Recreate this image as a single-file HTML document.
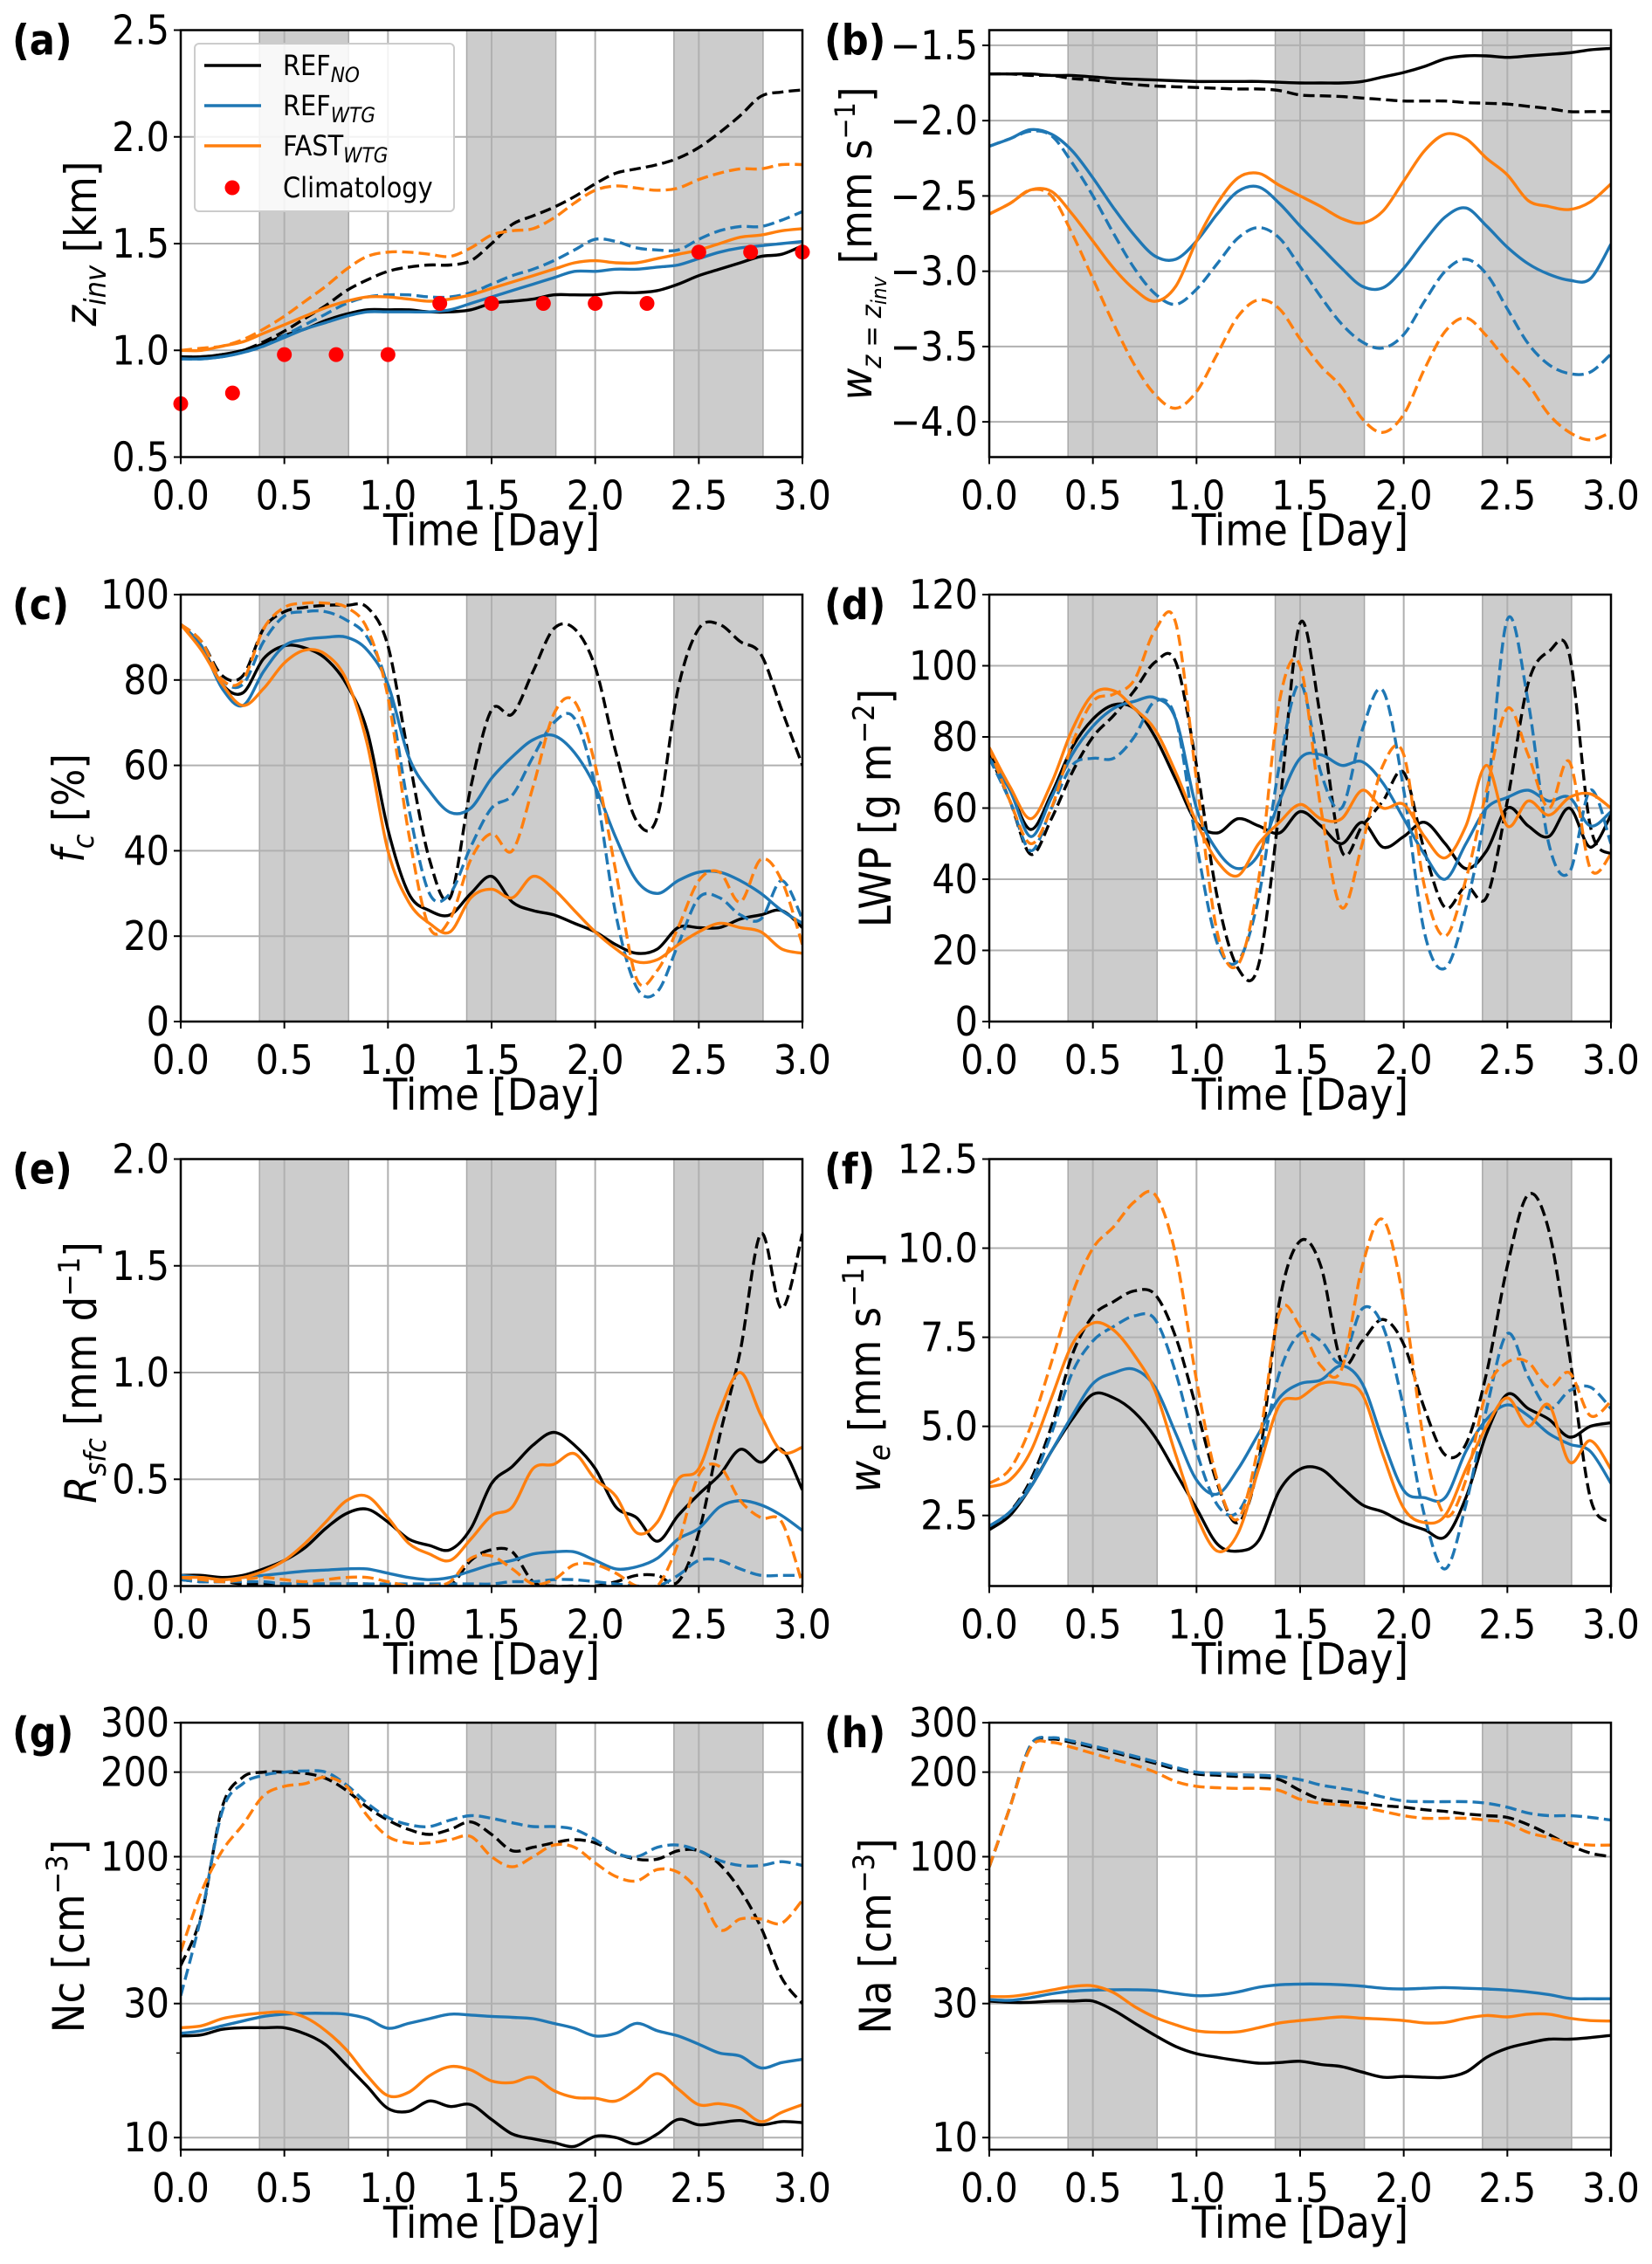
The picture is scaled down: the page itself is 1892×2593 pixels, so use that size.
<!DOCTYPE html>
<html><head><meta charset="utf-8"><style>
html,body{margin:0;padding:0;background:#fff;}
svg{display:block;}
text{font-family:"DejaVu Sans Condensed","DejaVu Sans","Liberation Sans",sans-serif;font-stretch:condensed;}
</style></head><body>
<svg id="fig" width="1892" height="2593" viewBox="0 0 1892 2593" xmlns="http://www.w3.org/2000/svg"></svg>
<script>
const time=[0,0.1,0.2,0.3,0.4,0.5,0.6,0.7,0.8,0.9,1.0,1.1,1.2,1.3,1.4,1.5,1.6,1.7,1.8,1.9,2.0,2.1,2.2,2.3,2.4,2.5,2.6,2.7,2.8,2.9,3.0];
const xTicks=[0,0.5,1.0,1.5,2.0,2.5,3.0];
const xTickLabels=["0.0","0.5","1.0","1.5","2.0","2.5","3.0"];
const nightStart=[0.38,1.38,2.38];
const nightEnd=[0.81,1.81,2.81];
// (a) z_inv
const a_refNo=[0.97,0.97,0.98,1.0,1.03,1.07,1.1,1.14,1.17,1.19,1.19,1.19,1.18,1.18,1.19,1.22,1.23,1.24,1.26,1.26,1.26,1.27,1.27,1.28,1.31,1.35,1.38,1.41,1.44,1.45,1.49];
const a_refNoD=[0.97,0.97,0.98,1.0,1.04,1.09,1.15,1.21,1.28,1.33,1.37,1.39,1.40,1.40,1.42,1.50,1.59,1.63,1.67,1.72,1.78,1.83,1.85,1.87,1.90,1.95,2.02,2.10,2.19,2.21,2.22];
const a_refW=[0.96,0.96,0.97,0.99,1.02,1.06,1.1,1.13,1.16,1.18,1.18,1.18,1.18,1.19,1.22,1.25,1.28,1.31,1.34,1.37,1.37,1.38,1.38,1.39,1.40,1.43,1.46,1.48,1.49,1.50,1.51];
const a_refWD=[0.96,0.96,0.97,0.99,1.02,1.07,1.12,1.17,1.22,1.25,1.26,1.26,1.25,1.25,1.27,1.31,1.35,1.38,1.42,1.47,1.52,1.51,1.48,1.47,1.47,1.52,1.56,1.58,1.58,1.61,1.65];
const a_fast=[1.0,1.0,1.02,1.04,1.08,1.12,1.16,1.20,1.23,1.25,1.25,1.24,1.23,1.24,1.26,1.29,1.32,1.35,1.38,1.41,1.42,1.41,1.41,1.43,1.45,1.47,1.50,1.53,1.54,1.56,1.57];
const a_fastD=[1.0,1.01,1.02,1.05,1.10,1.16,1.23,1.30,1.38,1.44,1.46,1.46,1.45,1.44,1.48,1.54,1.56,1.57,1.62,1.69,1.75,1.77,1.76,1.75,1.76,1.80,1.83,1.85,1.85,1.87,1.87];
const climTime=[0,0.25,0.5,0.75,1.0,1.25,1.5,1.75,2.0,2.25,2.5,2.75,3.0];
const climZ=[0.75,0.8,0.98,0.98,0.98,1.22,1.22,1.22,1.22,1.22,1.46,1.46,1.46];
// (b) w at z_inv
const b_refNo=[-1.69,-1.69,-1.69,-1.70,-1.70,-1.71,-1.72,-1.725,-1.73,-1.735,-1.74,-1.74,-1.74,-1.74,-1.745,-1.75,-1.75,-1.75,-1.74,-1.71,-1.68,-1.64,-1.59,-1.57,-1.57,-1.58,-1.57,-1.56,-1.55,-1.53,-1.52];
const b_refNoD=[-1.69,-1.69,-1.70,-1.70,-1.72,-1.73,-1.745,-1.76,-1.77,-1.775,-1.78,-1.785,-1.79,-1.79,-1.80,-1.83,-1.835,-1.84,-1.85,-1.86,-1.87,-1.87,-1.87,-1.88,-1.885,-1.89,-1.905,-1.92,-1.94,-1.94,-1.94];
const b_refW=[-2.17,-2.12,-2.06,-2.09,-2.2,-2.38,-2.58,-2.76,-2.9,-2.92,-2.8,-2.62,-2.47,-2.44,-2.55,-2.7,-2.84,-2.98,-3.1,-3.11,-2.98,-2.8,-2.64,-2.58,-2.7,-2.84,-2.95,-3.02,-3.06,-3.05,-2.82];
const b_refWD=[-2.17,-2.12,-2.07,-2.1,-2.28,-2.5,-2.75,-2.98,-3.15,-3.22,-3.12,-2.95,-2.78,-2.71,-2.78,-2.97,-3.17,-3.35,-3.47,-3.51,-3.42,-3.2,-3.0,-2.92,-3.02,-3.25,-3.48,-3.62,-3.68,-3.67,-3.55];
const b_fast=[-2.62,-2.55,-2.46,-2.47,-2.62,-2.8,-2.98,-3.12,-3.2,-3.1,-2.8,-2.55,-2.38,-2.35,-2.43,-2.5,-2.57,-2.65,-2.68,-2.6,-2.4,-2.2,-2.09,-2.12,-2.25,-2.36,-2.53,-2.57,-2.59,-2.54,-2.42];
const b_fastD=[-2.62,-2.55,-2.46,-2.5,-2.75,-3.05,-3.35,-3.62,-3.82,-3.91,-3.8,-3.55,-3.3,-3.19,-3.25,-3.45,-3.63,-3.77,-3.98,-4.07,-3.95,-3.65,-3.4,-3.31,-3.43,-3.6,-3.75,-3.95,-4.07,-4.12,-4.07];
// (c) cloud fraction
const c_refNo=[93,88,79,77,85,88,87.5,85,79,68,45,30,26,25,30,34,28,26,25,23,21,18,16,17,22,22,22,24,25,26,22];
const c_refNoD=[93,89,81,81,92,96,97,97.5,97.5,97,88,62,38,29,55,73,72,82,92,92,83,63,47,48,78,92,93,89,86,73,60];
const c_refW=[93,88,78,74,82,88,89.5,90,90,87,79,62,54,49,50,57,62,66,67,63,55,43,33,30,33,35,35,33,30,26,23];
const c_refWD=[93,89,80,79,89,95,96,96,94,90,78,50,30,30,41,50,53,62,70,71,55,25,8,7,18,29,29,25,24,33,24];
const c_fast=[93,87,79,74,78,84,87,86,80,65,40,28,23,21,29,31,29,34,31,26,21,17,14,14.5,18,21,23,22,21,17,16];
const c_fastD=[93,89,80,80,92,97,98,98,97,92,76,44,22,24,38,44,40,55,72,75,60,35,10,12,22,33,35,28,38,33,18];
// (d) LWP
const d_refNo=[76,65,54,64,77,85,89,88,80,68,56,53,57,55,53,59,55,50,56,49,52,56,50,43,48,60,55,52,60,49,58];
const d_refNoD=[75,62,47,57,70,80,86,93,101,101,72,35,15,16,60,112,85,48,55,62,70,48,32,38,35,62,95,104,103,55,47];
const d_refW=[74,65,52,63,75,83,88,90,91,85,60,48,43,47,62,74,75,72,73,67,57,47,40,50,60,63,65,62,63,55,59];
const d_refWD=[74,62,48,60,72,74,74,80,90,85,50,22,17,35,72,95,70,60,82,93,65,25,15,32,62,113,90,50,42,65,50];
const d_fast=[77,66,57,67,82,92,93,88,82,70,56,45,41,50,56,61,57,57,65,60,61,52,46,55,72,55,62,58,63,64,60];
const d_fastD=[77,62,50,60,78,90,92,96,110,112,68,25,16,40,90,100,60,32,50,72,75,38,24,40,65,88,75,60,73,43,47];
// (e) surface rain
const e_refNo=[0.05,0.05,0.04,0.05,0.08,0.12,0.18,0.27,0.34,0.36,0.3,0.22,0.19,0.17,0.27,0.48,0.56,0.66,0.72,0.66,0.55,0.37,0.32,0.21,0.33,0.43,0.52,0.64,0.58,0.64,0.45];
const e_refNoD=[0.03,0.02,0.02,0.01,0.01,0.01,0.01,0.01,0.01,0.01,0.0,0.0,0.0,0.0,0.12,0.17,0.16,0.02,0.0,0.0,0.0,0.02,0.05,0.05,0.02,0.25,0.7,1.1,1.65,1.3,1.65];
const e_refW=[0.05,0.04,0.03,0.04,0.05,0.06,0.07,0.075,0.08,0.08,0.06,0.04,0.03,0.04,0.07,0.1,0.12,0.15,0.16,0.16,0.12,0.08,0.09,0.13,0.22,0.27,0.37,0.40,0.38,0.33,0.26];
const e_refWD=[0.03,0.02,0.02,0.02,0.02,0.01,0.01,0.01,0.01,0.01,0.01,0.01,0.01,0.01,0.01,0.01,0.02,0.02,0.03,0.03,0.02,0.01,0.0,0.0,0.05,0.12,0.12,0.08,0.05,0.05,0.05];
const e_fast=[0.04,0.04,0.03,0.04,0.07,0.12,0.2,0.3,0.4,0.42,0.32,0.2,0.15,0.12,0.22,0.33,0.37,0.55,0.57,0.62,0.5,0.42,0.25,0.3,0.5,0.55,0.82,1.0,0.8,0.63,0.65];
const e_fastD=[0.04,0.03,0.02,0.03,0.04,0.03,0.02,0.03,0.04,0.04,0.02,0.0,0.0,0.02,0.13,0.14,0.08,0.01,0.03,0.1,0.1,0.06,0.0,0.0,0.2,0.52,0.56,0.4,0.32,0.3,0.01];
// (f) entrainment
const f_refNo=[2.1,2.5,3.3,4.3,5.2,5.9,5.8,5.4,4.7,3.7,2.7,1.7,1.5,1.8,3.2,3.8,3.8,3.3,2.8,2.6,2.3,2.1,1.9,3.0,4.8,5.9,5.5,5.2,4.7,5.0,5.1];
const f_refNoD=[2.1,2.6,3.5,5.0,7.0,8.1,8.5,8.8,8.7,7.5,5.5,3.4,2.3,4.0,8.5,10.2,9.5,6.8,7.4,8.0,7.3,5.5,4.2,4.5,6.5,9.5,11.5,10.5,7.0,3.0,2.3];
const f_refW=[2.2,2.6,3.3,4.3,5.3,6.2,6.5,6.6,6.1,4.8,3.5,3.1,3.8,4.8,5.8,6.2,6.3,6.7,6.2,4.6,3.2,3.0,3.0,4.3,5.2,5.6,5.3,4.8,4.5,4.3,3.4];
const f_refWD=[2.2,2.6,3.4,4.8,6.5,7.4,7.8,8.1,8.0,6.5,4.3,2.8,2.6,4.0,6.5,7.6,7.4,6.8,8.3,7.8,5.5,2.5,1.0,2.8,5.5,7.6,6.4,5.5,6.0,6.1,5.5];
const f_fast=[3.3,3.5,4.3,5.8,7.3,7.9,7.7,7.0,6.0,4.2,2.5,1.5,2.0,3.8,5.6,5.8,6.2,6.2,5.9,4.2,2.7,2.3,2.5,3.8,5.0,5.8,5.0,5.6,4.0,4.6,3.8];
const f_fastD=[3.4,3.8,5.0,6.8,8.7,10.0,10.6,11.3,11.5,9.8,6.3,3.5,2.4,4.5,8.2,7.8,6.7,6.6,9.5,10.8,8.5,4.5,2.5,3.5,6.0,6.8,6.8,6.1,6.5,5.3,5.7];
// (g) Nc
const g_refNo=[23,23.2,24.3,24.6,24.6,24.6,23.4,21.4,18.1,15.2,12.7,12.4,13.5,12.9,13.1,11.6,10.3,9.9,9.6,9.3,10.1,10,9.5,10.3,11.6,11.1,11.3,11.5,11.1,11.4,11.3];
const g_refNoD=[41,62,150,192,200,200,198,190,172,150,135,125,120,125,133,120,105,108,112,115,112,103,98,98,105,105,94,76,56,37,30];
const g_refW=[23.5,24,25,26,27,27.5,27.7,27.7,27.5,26.5,24.5,25.5,26.5,27.5,27.3,27,26.8,26.5,25.5,24.5,23,23.5,25.5,24,23,21.5,20,19.5,17.7,18.5,19];
const g_refWD=[32,62,145,182,195,200,202,200,180,155,138,130,128,135,140,137,132,128,128,125,115,103,100,108,110,105,97,93,93,96,93];
const g_fast=[24.6,25,26.5,27.3,27.8,28,26.8,24,20.5,16.6,14.1,14.5,16.6,17.9,17.4,15.9,15.7,16.4,14.7,13.9,13.8,13.5,14.9,16.9,14.9,13.1,13.2,12.7,11.4,12.3,13.1];
const g_fastD=[46,75,105,130,165,178,182,192,178,140,118,112,112,115,118,100,92,100,110,108,95,85,82,90,88,75,55,60,60,58,70];
// (h) Na
const h_refNo=[30.6,30.3,30.3,30.6,30.6,30.6,28.4,25.6,23.1,21.1,19.9,19.3,18.8,18.4,18.5,18.7,18.2,17.9,17.1,16.4,16.5,16.4,16.4,17.1,19.3,20.8,21.7,22.4,22.4,22.7,23.1];
const h_refNoD=[92,150,250,262,255,245,235,225,215,205,197,195,193,192,188,172,160,157,155,152,150,147,145,142,140,138,130,120,110,103,100];
const h_refW=[31,30.8,31.5,32.5,33.2,33.5,33.6,33.6,33.4,32.6,32,32.2,33,34.3,35,35.2,35.2,35,34.6,34,33.8,34,34.2,34,33.8,33.5,33,32.3,31.3,31.2,31.2];
const h_refWD=[92,150,250,265,258,248,238,228,218,208,200,198,196,195,193,188,180,175,170,163,158,157,157,157,155,150,143,140,140,138,135];
const h_fast=[31.8,31.8,32.5,33.5,34.5,34.7,32.8,29.3,26.8,25.2,24,23.7,23.8,24.6,25.6,26.1,26.5,26.9,26.6,26.4,26.1,25.6,25.7,26.6,27.2,26.9,27.5,27.5,26.6,26.1,26];
const h_fastD=[92,150,245,255,245,233,222,212,200,185,178,176,175,175,172,160,155,153,150,145,140,137,137,137,135,132,122,117,112,110,110];

const NS="http://www.w3.org/2000/svg";
const svg=document.getElementById('fig');
function mk(tag,attrs,parent){const e=document.createElementNS(NS,tag);for(const k in attrs)e.setAttribute(k,attrs[k]);(parent||svg).appendChild(e);return e;}
const BLACK="#000000",BLUE="#1f77b4",ORANGE="#ff7f0e";
const W=712,H=489;
const panels=[
 {id:'a',x0:207,y0:34.5,ymin:0.5,ymax:2.5,log:false,ticks:[0.5,1.0,1.5,2.0,2.5],tl:["0.5","1.0","1.5","2.0","2.5"],series:[a_refNo,a_refNoD,a_refW,a_refWD,a_fast,a_fastD],lx:110,
  ylab:'<tspan font-style="italic">z</tspan><tspan font-style="italic" font-size="34" dy="11">inv</tspan><tspan dy="-11">  [km]</tspan>'},
 {id:'b',x0:1133,y0:34.5,ymin:-4.234,ymax:-1.399,log:false,ticks:[-4.0,-3.5,-3.0,-2.5,-2.0,-1.5],tl:["−4.0","−3.5","−3.0","−2.5","−2.0","−1.5"],series:[b_refNo,b_refNoD,b_refW,b_refWD,b_fast,b_fastD],lx:998,
  ylab:'<tspan font-style="italic">w</tspan><tspan font-style="italic" font-size="32" dy="11">z = z</tspan><tspan font-style="italic" font-size="24" dy="6">inv</tspan><tspan dy="-17">  [mm s</tspan><tspan font-size="32" dy="-19">−1</tspan><tspan dy="19">]</tspan>'},
 {id:'c',x0:207,y0:681,ymin:0,ymax:100,log:false,ticks:[0,20,40,60,80,100],tl:["0","20","40","60","80","100"],series:[c_refNo,c_refNoD,c_refW,c_refWD,c_fast,c_fastD],lx:96,
  ylab:'<tspan font-style="italic">f</tspan><tspan font-style="italic" font-size="34" dy="11">c</tspan><tspan dy="-11">  [%]</tspan>'},
 {id:'d',x0:1133,y0:681,ymin:0,ymax:120,log:false,ticks:[0,20,40,60,80,100,120],tl:["0","20","40","60","80","100","120"],series:[d_refNo,d_refNoD,d_refW,d_refWD,d_fast,d_fastD],lx:1020,
  ylab:'<tspan>LWP  [g m</tspan><tspan font-size="34" dy="-19">−2</tspan><tspan dy="19">]</tspan>'},
 {id:'e',x0:207,y0:1327.5,ymin:0,ymax:2.0,log:false,ticks:[0,0.5,1.0,1.5,2.0],tl:["0.0","0.5","1.0","1.5","2.0"],series:[e_refNo,e_refNoD,e_refW,e_refWD,e_fast,e_fastD],lx:110,
  ylab:'<tspan font-style="italic">R</tspan><tspan font-style="italic" font-size="34" dy="11">sfc</tspan><tspan dy="-11">  [mm d</tspan><tspan font-size="34" dy="-19">−1</tspan><tspan dy="19">]</tspan>'},
 {id:'f',x0:1133,y0:1327.5,ymin:0.52,ymax:12.5,log:false,ticks:[2.5,5,7.5,10,12.5],tl:["2.5","5.0","7.5","10.0","12.5"],series:[f_refNo,f_refNoD,f_refW,f_refWD,f_fast,f_fastD],lx:1008,
  ylab:'<tspan font-style="italic">w</tspan><tspan font-style="italic" font-size="34" dy="11">e</tspan><tspan dy="-11">  [mm s</tspan><tspan font-size="34" dy="-19">−1</tspan><tspan dy="19">]</tspan>'},
 {id:'g',x0:207,y0:1973,ymin:9.06,ymax:300,log:true,ticks:[10,30,100,200,300],tl:["10","30","100","200","300"],series:[g_refNo,g_refNoD,g_refW,g_refWD,g_fast,g_fastD],lx:96,
  ylab:'<tspan>Nc  [cm</tspan><tspan font-size="34" dy="-19">−3</tspan><tspan dy="19">]</tspan>'},
 {id:'h',x0:1133,y0:1973,ymin:9.06,ymax:300,log:true,ticks:[10,30,100,200,300],tl:["10","30","100","200","300"],series:[h_refNo,h_refNoD,h_refW,h_refWD,h_fast,h_fastD],lx:1020,
  ylab:'<tspan>Na  [cm</tspan><tspan font-size="34" dy="-19">−3</tspan><tspan dy="19">]</tspan>'}
];
const seriesStyle=[[BLACK,false,'ref-no'],[BLACK,true,'ref-no-dashed'],[BLUE,false,'ref-wtg'],[BLUE,true,'ref-wtg-dashed'],[ORANGE,false,'fast-wtg'],[ORANGE,true,'fast-wtg-dashed']];
function pathFrom(pts){
  let d='M'+pts[0][0].toFixed(1)+','+pts[0][1].toFixed(1);
  for(let i=0;i<pts.length-1;i++){
    const p0=pts[Math.max(0,i-1)],p1=pts[i],p2=pts[i+1],p3=pts[Math.min(pts.length-1,i+2)];
    const c1x=p1[0]+(p2[0]-p0[0])/6,c1y=p1[1]+(p2[1]-p0[1])/6;
    const c2x=p2[0]-(p3[0]-p1[0])/6,c2y=p2[1]-(p3[1]-p1[1])/6;
    d+=' C'+c1x.toFixed(1)+','+c1y.toFixed(1)+' '+c2x.toFixed(1)+','+c2y.toFixed(1)+' '+p2[0].toFixed(1)+','+p2[1].toFixed(1);
  }
  return d;
}
panels.forEach(p=>{
  const g=mk('g',{});
  
  
  const xs=t=>p.x0+t/3*W;
  const ys=v=>p.log? p.y0+H*(Math.log(p.ymax)-Math.log(v))/(Math.log(p.ymax)-Math.log(p.ymin)) : p.y0+H*(p.ymax-v)/(p.ymax-p.ymin);
  const cp=mk('clipPath',{id:'clip-'+p.id},g);
  mk('rect',{x:p.x0,y:p.y0,width:W,height:H},cp);
  for(let i=0;i<nightStart.length;i++){
    const r=mk('rect',{x:xs(nightStart[i]),y:p.y0,width:xs(nightEnd[i])-xs(nightStart[i]),height:H,fill:'#cccccc',stroke:'#a8a8a8','stroke-width':1.5},g);
    
    
  }
  xTicks.forEach(t=>{const l=mk('line',{x1:xs(t),x2:xs(t),y1:p.y0,y2:p.y0+H,stroke:'#b0b0b0','stroke-width':2},g);
    });
  p.ticks.forEach(v=>{const l=mk('line',{x1:p.x0,x2:p.x0+W,y1:ys(v),y2:ys(v),stroke:'#b0b0b0','stroke-width':2},g);
    });
  const lg=mk('g',{'clip-path':'url(#clip-'+p.id+')'},g);
  p.series.forEach((arr,si)=>{
    const st=seriesStyle[si];
    const pts=time.map((t,i)=>[xs(t),ys(arr[i])]);
    const path=mk('path',{d:pathFrom(pts),fill:'none',stroke:st[0],'stroke-width':3.4,'stroke-linejoin':'round'},lg);
    if(st[1]) path.setAttribute('stroke-dasharray','13 6');
    
    
  });
  if(p.id==='a'){
    climTime.forEach((t,i)=>{const c=mk('circle',{cx:xs(t),cy:ys(climZ[i]),r:8.5,fill:'#ff0000'},g);
      });
  }
  const fr=mk('rect',{x:p.x0,y:p.y0,width:W,height:H,fill:'none',stroke:'#000','stroke-width':2.5},g);
  
  xTicks.forEach((t,i)=>{
    mk('line',{x1:xs(t),x2:xs(t),y1:p.y0+H,y2:p.y0+H+8,stroke:'#000','stroke-width':2},g);
    const tx=mk('text',{x:xs(t),y:p.y0+H+60,'font-size':46,'text-anchor':'middle',fill:'#000'},g);
    tx.textContent=xTickLabels[i];
    
  });
  p.ticks.forEach((v,i)=>{
    mk('line',{x1:p.x0-8,x2:p.x0,y1:ys(v),y2:ys(v),stroke:'#000','stroke-width':2},g);
    const tx=mk('text',{x:p.x0-13,y:ys(v)+16,'font-size':46,'text-anchor':'end',fill:'#000'},g);
    tx.textContent=p.tl[i];
    
  });
  if(p.log){
    [20,40,50,60,70,80,90].forEach(v=>mk('line',{x1:p.x0-5,x2:p.x0,y1:ys(v),y2:ys(v),stroke:'#000','stroke-width':1.5},g));
  }
  const xt=mk('text',{x:p.x0+W/2,y:p.y0+H+101,'font-size':50,'text-anchor':'middle',fill:'#000'},g);
  xt.textContent='Time [Day]';
  
  const cy=p.y0+H/2;
  const yt=mk('text',{x:p.lx,y:cy,'font-size':50,'text-anchor':'middle',fill:'#000',transform:'rotate(-90 '+p.lx+' '+cy+')'},g);
  yt.innerHTML=p.ylab;
  
  const lt=mk('text',{x:p.x0<500?14:944,y:p.y0+28,'font-size':48,'font-weight':'bold',fill:'#000'},g);
  lt.textContent='('+p.id+')';
  
});
const leg=mk('g',{});


mk('rect',{x:223,y:50,width:297,height:192,rx:5,fill:'#ffffff','fill-opacity':0.85,stroke:'#cccccc','stroke-width':2},leg);
const legColors=[BLACK,BLUE,ORANGE];
const legMain=['REF','REF','FAST'];
const legSub=['NO','WTG','WTG'];
const legY=[75,121,167];
legColors.forEach((c,i)=>{
  const e=mk('g',{},leg);
  
  
  mk('line',{x1:234,x2:299,y1:legY[i],y2:legY[i],stroke:c,'stroke-width':3.4},e);
  const t=mk('text',{x:324,y:legY[i]+11,'font-size':32,fill:'#000'},e);
  t.innerHTML=legMain[i]+'<tspan font-style="italic" font-size="24" dy="8">'+legSub[i]+'</tspan>';
});
const ce=mk('g',{},leg);


mk('circle',{cx:266,cy:215,r:8.5,fill:'#ff0000'},ce);
const ct=mk('text',{x:324,y:226,'font-size':32,fill:'#000'},ce);
ct.textContent='Climatology';
</script>
</body></html>
